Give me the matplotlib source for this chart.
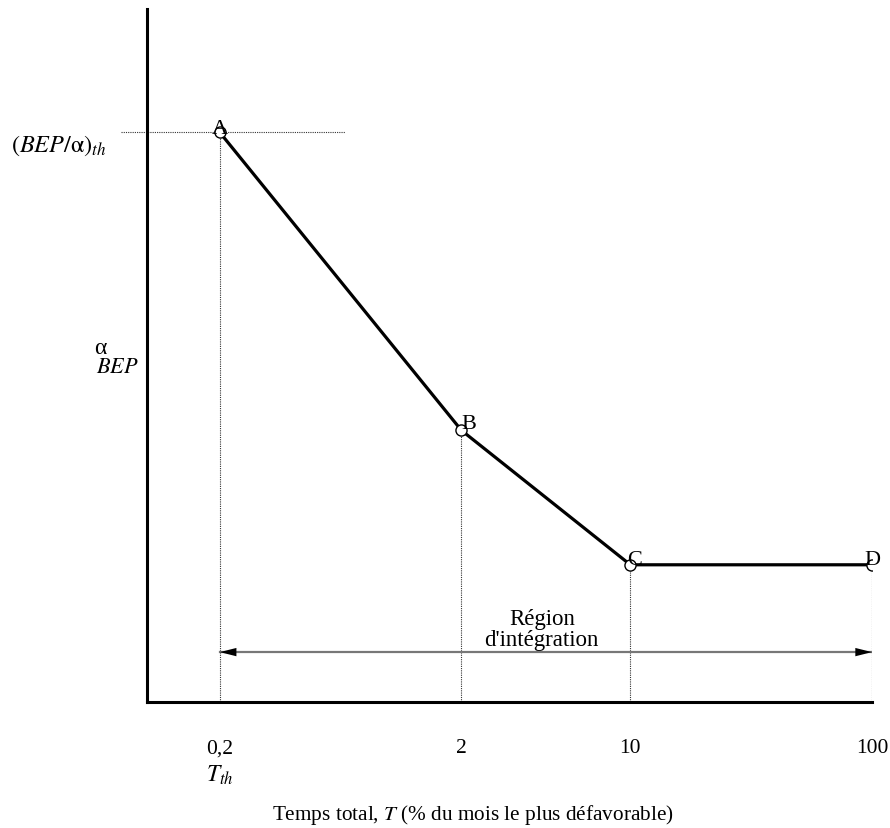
import numpy as np
import matplotlib
matplotlib.use("Agg")
import matplotlib.pyplot as plt

plt.rcParams["font.family"] = ["Liberation Serif", "DejaVu Serif"]
plt.rcParams["mathtext.fontset"] = "stix"

# ── Data ────────────────────────────────────────────────────────────────────
T_pts = [0.2, 2, 10, 100]
bep_pts = [0.822, 0.392, 0.198, 0.198]
pt_labels = ["A", "B", "C", "D"]
tick_vals = [0.2, 2, 10, 100]
tick_labels = ["0,2", "2", "10", "100"]
arrow_span = [0.2, 100]
arrow_level = 0.072

# label offsets (points) for A, B, C, D
lab_off = [(0, 3), (5, 5), (3, 4), (0, 4)]

# ── Figure ──────────────────────────────────────────────────────────────────
fig = plt.figure(figsize=(8.9, 8.29), dpi=100)
ax = fig.add_axes([147 / 890, 1 - 703 / 829, 725 / 890, 693 / 829])
ax.set_xscale("log")
ax.set_xlim(0.1, 100)
ax.set_ylim(0, 1)

# vertical dotted guides
for t, b in zip(T_pts, bep_pts):
    ax.plot([t, t], [0, b], linestyle=(0, (1, 1)), linewidth=0.8,
            color="#333333", zorder=1)

# horizontal dotted guide at A
ax.plot([0.078, 0.66], [bep_pts[0], bep_pts[0]], linestyle=(0, (1, 1)),
        linewidth=0.8, color="#333333", zorder=1, clip_on=False)

# main curve
ax.plot(T_pts, bep_pts, color="black", linewidth=2.3, zorder=3,
        solid_capstyle="butt")
ax.plot(T_pts, bep_pts, linestyle="none", marker="o", markersize=8,
        markerfacecolor="white", markeredgecolor="black",
        markeredgewidth=1.0, zorder=4)
for t, b, lab, off in zip(T_pts, bep_pts, pt_labels, lab_off):
    ax.annotate(lab, (t, b), xytext=off, textcoords="offset points",
                ha="center", va="center", fontsize=16, zorder=5)

# integration region arrow
ax.plot(arrow_span, [arrow_level, arrow_level], color="#777777",
        linewidth=1.6, zorder=2)
for start, end in [(arrow_span[0] * 1.3, arrow_span[0]),
                   (arrow_span[1] / 1.3, arrow_span[1])]:
    ax.annotate("", xy=(end, arrow_level), xytext=(start, arrow_level),
                arrowprops=dict(arrowstyle="-|>,head_length=1.2,head_width=0.3",
                                color="black", linewidth=0, shrinkA=0,
                                shrinkB=0), zorder=3)
ax.text(4.3, arrow_level + 0.003, "Région\nd'intégration", ha="center",
        va="bottom", fontsize=16.5, linespacing=1.0)

# axes styling
ax.spines["top"].set_visible(False)
ax.spines["right"].set_visible(False)
ax.spines["left"].set_linewidth(2.2)
ax.spines["bottom"].set_linewidth(2.2)
ax.set_xticks(tick_vals)
ax.set_xticklabels(tick_labels, fontsize=15.5)
ax.xaxis.set_minor_locator(matplotlib.ticker.NullLocator())
ax.tick_params(axis="x", length=0, pad=26)
ax.set_yticks([])

# axis captions
ax.text(-0.055, 0.795, r"$(\mathit{BEP}/\mathrm{α})_{\mathit{th}}$",
        ha="right", va="baseline", fontsize=17.5,
        transform=ax.transAxes, clip_on=False)
ax.text(0.2, -0.105, r"$T_{\mathit{th}}$", ha="center", va="center",
        fontsize=17, transform=ax.get_xaxis_transform())
ax.text(-0.0648, 0.511, "α", ha="center", va="center", fontsize=17,
        transform=ax.transAxes, clip_on=False)
ax.text(-0.0414, 0.483, r"$\mathit{BEP}$", ha="center", va="center",
        fontsize=16, transform=ax.transAxes, clip_on=False)
fig.text(473 / 890, 1 - 815 / 829,
         r"Temps total, $T$ (% du mois le plus défavorable)",
         ha="center", va="center", fontsize=15.3)

fig.savefig("out.png", dpi=100)
